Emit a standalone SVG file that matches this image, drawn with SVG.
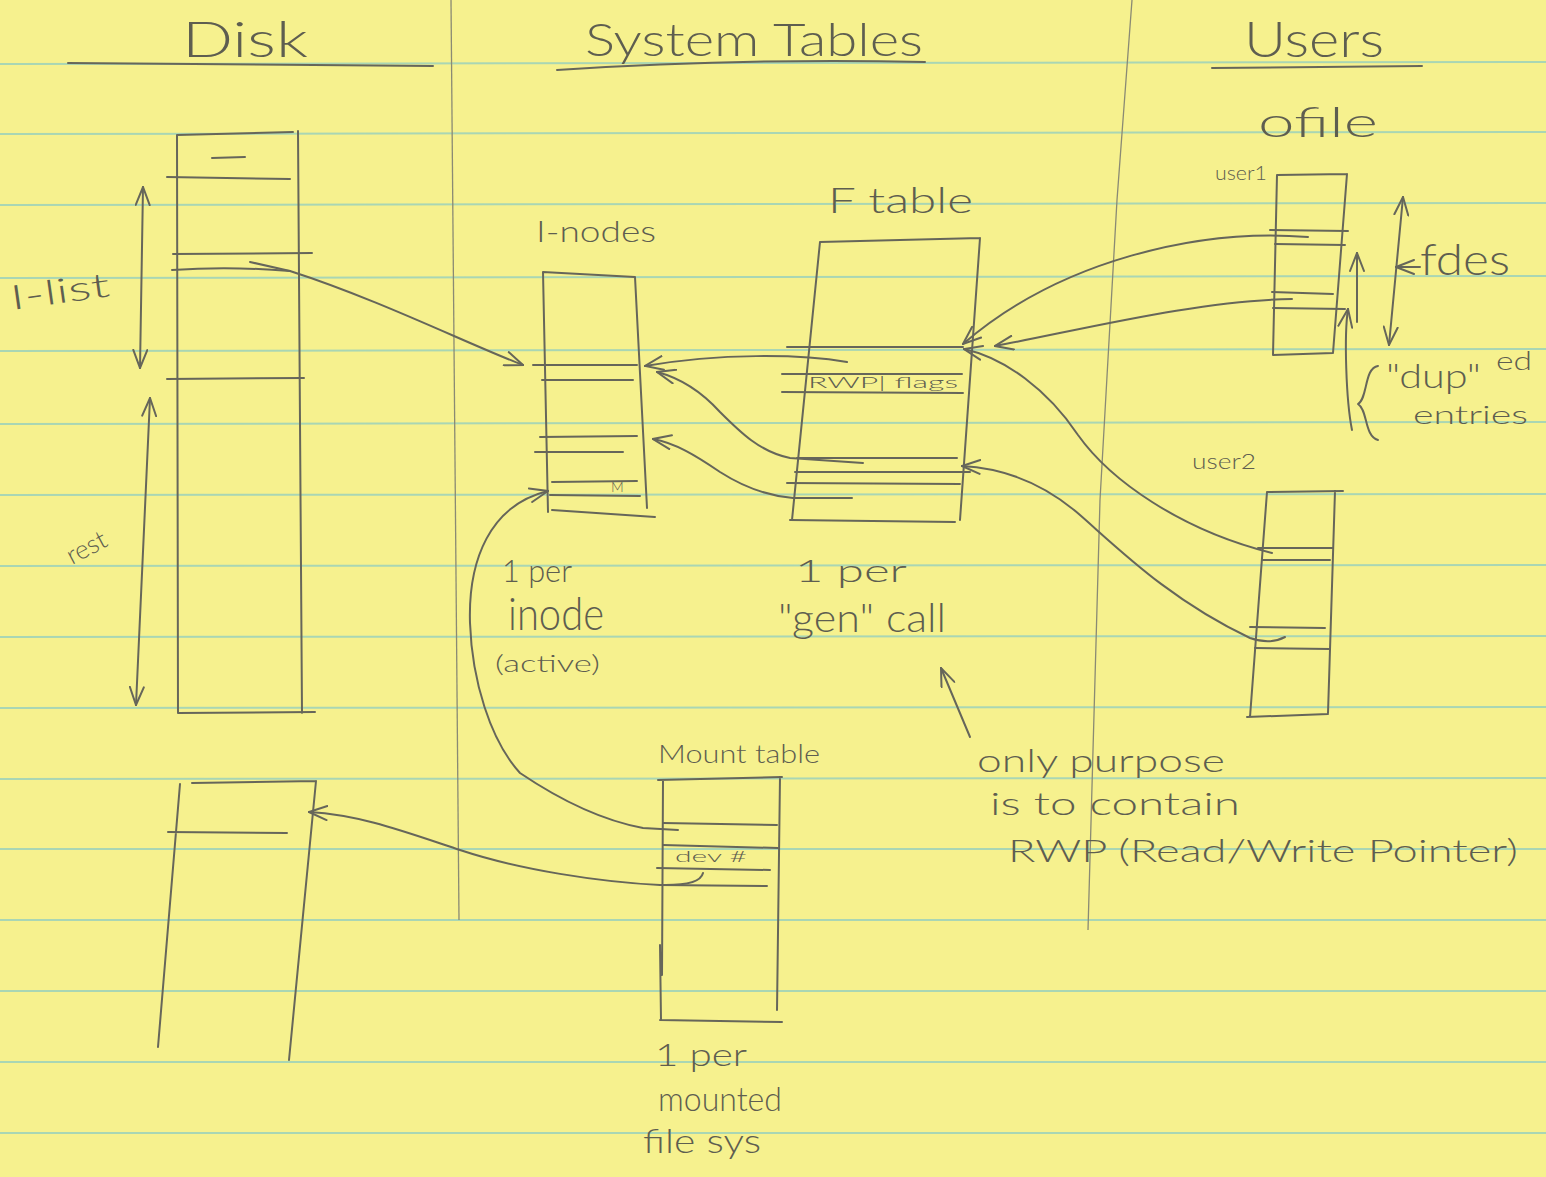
<svg xmlns="http://www.w3.org/2000/svg" width="1546" height="1177" viewBox="0 0 1546 1177">
<style>
.pen{fill:none;stroke:#66665a;stroke-width:2;stroke-linecap:round;stroke-linejoin:round}
.rule{stroke:#a9d6b4;stroke-width:2}
.div{fill:none;stroke:#8a8a74;stroke-width:1.3}
.t{font-family:"Lato","Liberation Sans","DejaVu Sans",sans-serif;font-weight:300;fill:#5e5e50}
.arr{marker-end:url(#ah)}
.dbl{marker-start:url(#ah);marker-end:url(#ah)}
</style>
<defs>
<marker id="ah" viewBox="0 0 20 16" refX="19" refY="8" markerWidth="20" markerHeight="16" markerUnits="userSpaceOnUse" orient="auto-start-reverse">
<path d="M1,1 L19,8 L1,15" fill="none" stroke="#66665a" stroke-width="2" stroke-linecap="round"/>
</marker>
</defs>
<rect width="1546" height="1177" fill="#f6f18e"/>
<g id="paper">
<line class="rule" x1="0" y1="64" x2="1546" y2="62"/>
<line class="rule" x1="0" y1="134" x2="1546" y2="132"/>
<line class="rule" x1="0" y1="205" x2="1546" y2="203"/>
<line class="rule" x1="0" y1="278" x2="1546" y2="276"/>
<line class="rule" x1="0" y1="351" x2="1546" y2="349"/>
<line class="rule" x1="0" y1="424" x2="1546" y2="422"/>
<line class="rule" x1="0" y1="495" x2="1546" y2="494"/>
<line class="rule" x1="0" y1="566" x2="1546" y2="565"/>
<line class="rule" x1="0" y1="637" x2="1546" y2="636"/>
<line class="rule" x1="0" y1="708" x2="1546" y2="707"/>
<line class="rule" x1="0" y1="779" x2="1546" y2="778"/>
<line class="rule" x1="0" y1="849" x2="1546" y2="849"/>
<line class="rule" x1="0" y1="920" x2="1546" y2="920"/>
<line class="rule" x1="0" y1="991" x2="1546" y2="991"/>
<line class="rule" x1="0" y1="1062" x2="1546" y2="1062"/>
<line class="rule" x1="0" y1="1133" x2="1546" y2="1133"/>
<path class="div" d="M451,0 L459,920"/>
<path class="div" d="M1132,0 L1117,200 L1100,500 L1088,930"/>
</g>
<g id="headers">
<text class="t" x="182" y="57" font-size="50" textLength="126" lengthAdjust="spacingAndGlyphs">Disk</text>
<path class="pen" d="M68,63 L433,66"/>
<text class="t" x="585" y="56" font-size="46" textLength="338" lengthAdjust="spacingAndGlyphs">System Tables</text>
<path class="pen" d="M557,70 Q740,58 925,62"/>
<text class="t" x="1244" y="57" font-size="50" textLength="140" lengthAdjust="spacingAndGlyphs">Users</text>
<path class="pen" d="M1212,68 L1422,66"/>
</g>
<g id="disk-top">
<path class="pen" d="M177,135 L293,132 M177,135 L178,713 M298,131 L302,713 M178,713 L315,712"/>
<path class="pen" d="M212,158 L245,157 M167,177 L290,179 M173,254 L312,253 M172,270 Q230,266 290,271 M167,379 L304,378"/>
<path class="pen dbl" d="M140,368 L143,187"/>
<path class="pen dbl" d="M136,705 L150,398"/>
<text class="t" x="12" y="310" font-size="34" textLength="100" lengthAdjust="spacingAndGlyphs" transform="rotate(-8 12 310)">I-list</text>
<text class="t" x="72" y="565" font-size="26" textLength="42" lengthAdjust="spacingAndGlyphs" transform="rotate(-28 72 565)">rest</text>
</g>
<g id="disk-bottom">
<path class="pen" d="M192,783 L316,781 M180,784 L158,1047 M316,781 L289,1060 M168,832 L287,833"/>
</g>
<g id="inodes">
<text class="t" x="536" y="242" font-size="30" textLength="120" lengthAdjust="spacingAndGlyphs">I-nodes</text>
<path class="pen" d="M543,272 L635,277 M543,272 L548,512 M635,277 L647,508 M552,510 L655,517"/>
<path class="pen" d="M533,365 L637,365 M542,380 L633,380 M540,437 L637,436 M535,452 L623,452 M552,482 L637,481 M550,495 L640,496"/>
<text class="t" x="611" y="492" font-size="14">M</text>
<text class="t" x="502" y="582" font-size="32" textLength="70" lengthAdjust="spacingAndGlyphs">1 per</text>
<text class="t" x="508" y="630" font-size="46" textLength="96" lengthAdjust="spacingAndGlyphs">inode</text>
<text class="t" x="495" y="672" font-size="24" textLength="105" lengthAdjust="spacingAndGlyphs">(active)</text>
</g>
<g id="ftable">
<text class="t" x="828" y="213" font-size="36" textLength="145" lengthAdjust="spacingAndGlyphs">F table</text>
<path class="pen" d="M820,242 L980,238 M820,242 L792,520 M980,238 L960,520 M790,520 L955,522"/>
<path class="pen" d="M787,347 L963,347 M782,374 L962,374 M782,392 L963,393 M797,458 L957,458 M795,472 L970,472 M787,483 L960,484"/>
<text class="t" x="808" y="388" font-size="15" textLength="150" lengthAdjust="spacingAndGlyphs">RWP| flags</text>
<text class="t" x="795" y="582" font-size="32" textLength="112" lengthAdjust="spacingAndGlyphs">1 per</text>
<text class="t" x="778" y="632" font-size="40" textLength="168" lengthAdjust="spacingAndGlyphs">"gen" call</text>
</g>
<g id="mount">
<text class="t" x="658" y="763" font-size="26" textLength="162" lengthAdjust="spacingAndGlyphs">Mount table</text>
<path class="pen" d="M658,780 L782,777 M663,780 L662,975 M660,945 L661,1020 M780,777 L777,1010 M660,1020 L782,1022"/>
<path class="pen" d="M663,823 L777,825 M663,845 L778,848 M657,868 L770,870 M660,885 L767,886"/>
<text class="t" x="675" y="862" font-size="16" textLength="72" lengthAdjust="spacingAndGlyphs">dev #</text>
<text class="t" x="655" y="1066" font-size="32" textLength="92" lengthAdjust="spacingAndGlyphs">1 per</text>
<text class="t" x="658" y="1111" font-size="34" textLength="124" lengthAdjust="spacingAndGlyphs">mounted</text>
<text class="t" x="643" y="1153" font-size="34" textLength="118" lengthAdjust="spacingAndGlyphs">file sys</text>
</g>
<g id="user1">
<text class="t" x="1258" y="137" font-size="42" textLength="120" lengthAdjust="spacingAndGlyphs">ofile</text>
<text class="t" x="1215" y="180" font-size="20" textLength="52" lengthAdjust="spacingAndGlyphs">user1</text>
<path class="pen" d="M1277,175 L1347,174 M1277,175 L1273,355 M1347,174 L1333,353 M1273,355 L1333,353"/>
<path class="pen" d="M1270,230 L1348,231 M1275,244 L1345,245 M1272,292 L1333,294 M1273,308 L1345,309"/>
<path class="pen dbl" d="M1389,345 L1403,197"/>
<path class="pen arr" d="M1420,267 L1396,267"/>
<text class="t" x="1420" y="275" font-size="44" textLength="90" lengthAdjust="spacingAndGlyphs">fdes</text>
<path class="pen arr" d="M1357,322 L1357,253"/>
<path class="pen arr" d="M1352,430 C1346,400 1344,335 1348,309"/>
<path class="pen" d="M1378,366 C1364,368 1368,398 1358,404 C1368,410 1364,436 1378,440"/>
<text class="t" x="1386" y="388" font-size="34" textLength="95" lengthAdjust="spacingAndGlyphs">"dup"</text>
<text class="t" x="1496" y="370" font-size="26" textLength="36" lengthAdjust="spacingAndGlyphs">ed</text>
<text class="t" x="1413" y="424" font-size="26" textLength="115" lengthAdjust="spacingAndGlyphs">entries</text>
</g>
<g id="user2">
<text class="t" x="1192" y="469" font-size="22" textLength="64" lengthAdjust="spacingAndGlyphs">user2</text>
<path class="pen" d="M1267,492 L1343,491 M1267,492 L1250,717 M1335,491 L1328,713 M1247,717 L1328,714"/>
<path class="pen" d="M1258,548 L1333,548 M1262,560 L1330,560 M1250,627 L1325,628 M1255,648 L1330,649"/>
</g>
<g id="note">
<text class="t" x="977" y="772" font-size="32" textLength="248" lengthAdjust="spacingAndGlyphs">only purpose</text>
<text class="t" x="990" y="815" font-size="32" textLength="250" lengthAdjust="spacingAndGlyphs">is to contain</text>
<text class="t" x="1008" y="862" font-size="32" textLength="510" lengthAdjust="spacingAndGlyphs">RWP (Read/Write Pointer)</text>
</g>
<g id="connectors">
<path class="pen arr" d="M250,262 L290,271 C380,300 470,345 523,365"/>
<path class="pen arr" d="M847,362 C800,354 720,353 645,366"/>
<path class="pen arr" d="M863,463 L790,458 C760,452 740,432 720,412 C700,390 680,378 657,372"/>
<path class="pen arr" d="M852,498 L793,498 C770,496 745,488 720,472 C695,455 675,443 653,439"/>
<path class="pen arr" d="M1308,237 C1200,228 1060,260 963,344"/>
<path class="pen arr" d="M1292,299 C1200,300 1080,330 995,346"/>
<path class="pen arr" d="M1272,553 C1180,530 1110,480 1078,435 C1048,390 1005,358 964,349"/>
<path class="pen arr" d="M1285,637 Q1270,645 1250,638 C1170,600 1120,550 1080,515 C1040,480 1000,468 962,466"/>
<path class="pen arr" d="M678,830 L643,828 C600,820 560,800 520,773 C490,740 472,680 470,623 C468,560 490,505 548,491"/>
<path class="pen arr" d="M703,873 Q700,886 660,885 C600,882 520,870 460,850 C400,830 360,815 309,812"/>
<path class="pen arr" d="M970,737 L941,668"/>
</g>
</svg>
